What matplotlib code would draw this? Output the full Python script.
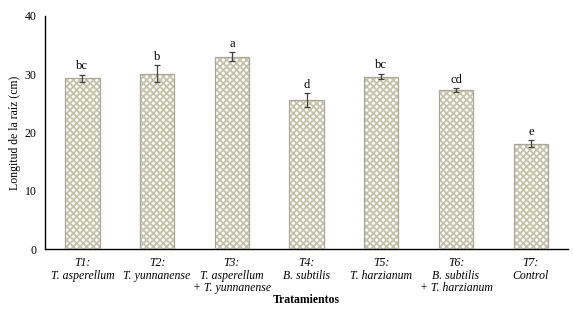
import numpy as np
import matplotlib
matplotlib.use('Agg')
import matplotlib.pyplot as plt

plt.rcParams['font.family'] = ['Liberation Serif', 'DejaVu Serif']
plt.rcParams['hatch.linewidth'] = 1.3

labels = ['T1:\nT. asperellum', 'T2:\nT. yunnanense', 'T3:\nT. asperellum\n+ T. yunnanense',
          'T4:\nB. subtilis', 'T5:\nT. harzianum', 'T6:\nB. subtilis\n+ T. harzianum',
          'T7:\nControl']
means = [29.3, 30.1, 33.0, 25.5, 29.6, 27.3, 18.1]
errors = [0.6, 1.4, 0.8, 1.2, 0.5, 0.3, 0.6]
letters = ['bc', 'b', 'a', 'd', 'bc', 'cd', 'e']

fig = plt.figure(figsize=(5.73, 3.11), dpi=100)
ax = fig.add_axes([0.0785, 0.199, 0.913, 0.750])

x = np.arange(len(means))
ax.bar(x, means, width=0.46, color='white', edgecolor='#c5c2a8', hatch='xxxxx',
       linewidth=0, zorder=2)
ax.bar(x, means, width=0.46, color='none', edgecolor='#a8a698', linewidth=0.9, zorder=3)
ax.errorbar(x, means, yerr=errors, fmt='none', ecolor='#404040', elinewidth=0.9,
            capsize=2.5, capthick=0.9, zorder=4)

for xi, m, e, t in zip(x, means, errors, letters):
    ax.text(xi, m + e + 0.4, t, ha='center', va='bottom', fontsize=9)

ax.set_xlim(-0.5, 6.5)
ax.set_ylim(0, 40)
ax.set_yticks([0, 10, 20, 30, 40])
ax.set_xticks(x)
ax.set_xticklabels(labels, fontsize=8.5, style='italic', linespacing=1.05)
ax.tick_params(axis='y', length=0, labelsize=8.5, pad=6)
ax.tick_params(axis='x', length=0, pad=6)
for s in ['top', 'right']:
    ax.spines[s].set_visible(False)
ax.spines['left'].set_linewidth(1.0)
ax.spines['bottom'].set_linewidth(1.0)

ax.set_ylabel('Longitud de la raíz (cm)', fontsize=8.5, labelpad=3)
ax.set_xlabel('Tratamientos', fontsize=8.5, fontweight='bold', labelpad=0)

fig.savefig('out.png', dpi=100)
